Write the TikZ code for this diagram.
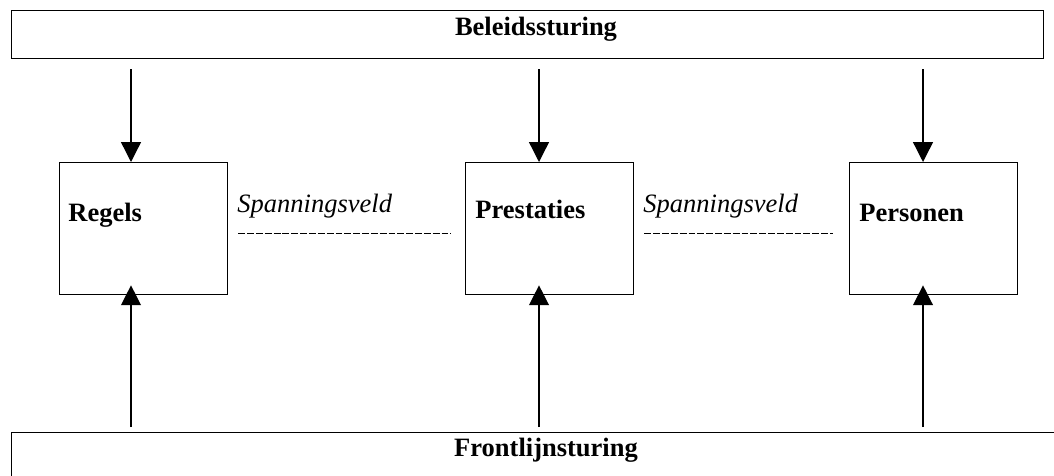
\documentclass[tikz,border=0pt]{standalone}
\usepackage{fontspec}
\setmainfont{Liberation Serif}
\usepackage{tikz}
\usetikzlibrary{arrows.meta, calc}

\begin{document}
\begin{tikzpicture}[
            x=0.4528pt, y=-0.4528pt, % one unit is one pixel of the sketch
            every node/.style={font=\fontsize{12}{14}\selectfont},
            bar/.style={draw, semithick, rectangle, inner sep=0pt, anchor=north west},
            post/.style={draw, semithick, rectangle, inner sep=0pt, anchor=north west,
                minimum width=168*0.4528pt, minimum height=132*0.4528pt},
            title/.style={font=\fontsize{12}{14}\selectfont\bfseries, inner sep=0pt},
            spanlabel/.style={font=\fontsize{12}{14}\selectfont\itshape, inner sep=0pt, anchor=base west},
            flow/.style={semithick, -{Triangle[length=9pt, width=9pt]}},
            spanline/.style={line width=0.5pt, dash pattern=on 3.1pt off 0.9pt}
            ]
        \useasboundingbox (0,0) rectangle (1054,475);

        % the two steering bars
        \node[bar, minimum width=1032*0.4528pt, minimum height=48*0.4528pt] (beleid) at (11,10) {};
        \node[bar, minimum width=1060*0.4528pt, minimum height=60*0.4528pt] (front) at (11,432) {};
        \node[title, anchor=base] (beleidtxt) at (536,35) {Beleidssturing};
        \node[title, anchor=base] (fronttxt) at (546,456) {Frontlijnsturing};

        % the three posts
        \node[post] (regels) at (59,162) {};
        \node[post] (prestaties) at (465,162) {};
        \node[post] (personen) at (849,162) {};
        \node[title, anchor=base west] (regelstxt) at ($(regels.north west)+(9,59)$) {Regels};
        \node[title, anchor=base west] (prestatiestxt) at ($(prestaties.north west)+(10,56)$) {Prestaties};
        \node[title, anchor=base west] (personentxt) at ($(personen.north west)+(10,59)$) {Personen};

        % tension between the posts
        \node[spanlabel] (span1) at (237,212) {Spanningsveld};
        \node[spanlabel] (span2) at (643,212) {Spanningsveld};
        \draw[spanline] ($(regels.east)+(10,5)$) -- ($(prestaties.west)+(-14,5)$);
        \draw[spanline] ($(prestaties.east)+(10,5)$) -- ($(personen.west)+(-16,5)$);

        % steering from above and from below
        \coordinate (t1) at (131,69);
        \coordinate (t2) at (539,69);
        \coordinate (t3) at (923,69);
        \coordinate (f1) at (131,427);
        \coordinate (f2) at (539,427);
        \coordinate (f3) at (923,427);
        \draw[flow] (t1) -- (t1 |- regels.north);
        \draw[flow] (t2) -- (t2 |- prestaties.north);
        \draw[flow] (t3) -- (t3 |- personen.north);
        \draw[flow] (f1) -- ($(f1 |- regels.south)+(0,-10)$);
        \draw[flow] (f2) -- ($(f2 |- prestaties.south)+(0,-10)$);
        \draw[flow] (f3) -- ($(f3 |- personen.south)+(0,-10)$);

\end{tikzpicture}
\end{document}
